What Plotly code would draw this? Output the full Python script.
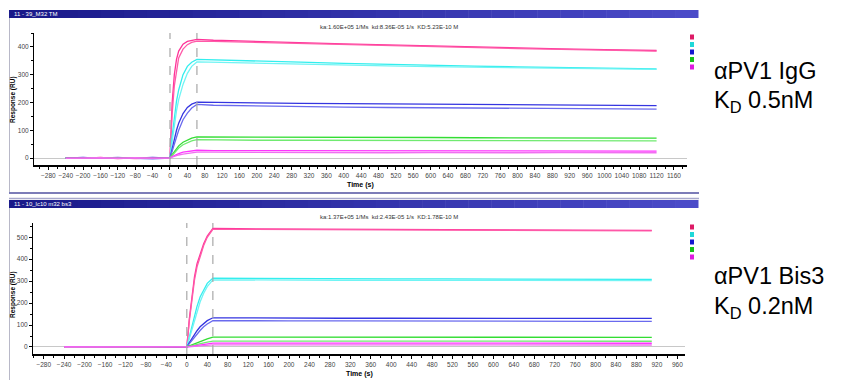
import plotly.graph_objects as go

# ---------------- data ----------------
TOP_TIME = [-240, -200, -160, -120, -80, -40, 0, 5, 10, 15, 20, 30, 40, 50, 62,
            100, 200, 300, 400, 500, 600, 700, 800, 900, 1000, 1120]
top_pink1 = [1, -1, 2, -2, 1, -1, 0, 200, 300, 355, 385, 410, 420, 424, 427, 424, 419, 415, 411, 407, 403, 399, 396, 393, 390, 387]
top_pink2 = [0, 1, -1, 1, -2, 1, 0, 160, 260, 320, 360, 392, 408, 416, 421, 420, 416, 412, 408, 404, 400, 397, 394, 391, 388, 385]
top_cyan1 = [0, 1, -1, 0, 1, -1, 0, 80, 150, 205, 245, 300, 330, 345, 355, 353, 349, 345, 341, 337, 334, 331, 328, 325, 323, 321]
top_cyan2 = [1, 0, 0, -1, 0, 1, 0, 60, 120, 170, 210, 265, 305, 330, 346, 345, 341, 338, 335, 332, 329, 327, 325, 323, 321, 319]
top_blue1 = [0, 2, -1, 1, 0, 2, 0, 35, 70, 100, 125, 160, 182, 194, 201, 200, 198, 197, 196, 195, 194, 193, 192, 191, 190, 189]
top_blue2 = [1, -1, 0, 2, -1, -3, 0, 25, 52, 78, 100, 138, 162, 180, 193, 190, 187, 185, 183, 182, 181, 180, 179, 178, 177, 176]
top_green1 = [0, 1, 0, -1, 1, 0, 0, 12, 24, 35, 44, 57, 66, 72, 76, 76, 75, 75, 74, 74, 74, 73, 73, 73, 72, 72]
top_green2 = [0, -1, 1, 0, 0, -1, 0, 9, 19, 28, 36, 48, 56, 62, 66, 65, 64, 64, 64, 63, 63, 63, 62, 62, 62, 62]
top_mag1 = [0, 0, -1, 1, 0, -1, 0, 5, 9, 13, 16, 21, 24, 26, 28, 27, 27, 26, 26, 26, 25, 25, 25, 25, 25, 25]
top_mag2 = [-1, 0, 1, -1, 1, 0, 0, 3, 6, 9, 11, 14, 17, 19, 21, 21, 20, 20, 20, 19, 20, 19, 19, 20, 19, 19]

BOT_TIME = [-240, -200, -160, -120, -80, -40, 0, 5, 10, 15, 20, 26, 33, 40, 51,
            100, 200, 300, 400, 500, 600, 700, 800, 910]
bot_pink1 = [2, -1, 1, 0, 1, -2, 0, 130, 240, 320, 380, 420, 470, 505, 540, 539, 538, 537, 536, 535, 534, 533, 532, 531]
bot_pink2 = [0, 1, -2, 1, 0, -1, 0, 120, 225, 305, 365, 410, 462, 500, 536, 536, 535, 534, 533, 532, 531, 530, 530, 529]
bot_cyan1 = [1, 0, -1, 1, 0, -1, 0, 50, 100, 145, 185, 228, 262, 290, 314, 313, 312, 311, 310, 310, 309, 309, 308, 308]
bot_cyan2 = [0, -1, 0, 1, -1, 0, 0, 40, 85, 125, 162, 205, 245, 275, 306, 305, 305, 304, 304, 303, 303, 302, 302, 302]
bot_blue1 = [0, 1, -1, 0, 1, 0, 0, 20, 40, 58, 74, 92, 108, 120, 133, 132, 132, 131, 131, 131, 130, 130, 130, 130]
bot_blue2 = [1, 0, 0, -1, 0, 1, 0, 15, 30, 45, 58, 75, 92, 105, 120, 119, 119, 119, 118, 118, 118, 118, 117, 117]
bot_green1 = [0, 0, 1, -1, 0, 1, 0, 5, 10, 15, 19, 25, 31, 37, 45, 45, 45, 45, 44, 44, 44, 44, 44, 44]
bot_green2 = [0, 1, 0, 0, -1, 0, 0, 3, 6, 9, 12, 15, 19, 22, 27, 27, 27, 27, 26, 26, 26, 26, 26, 26]
bot_mag1 = [1, -1, 0, 1, 0, -1, 0, 2, 4, 6, 8, 10, 12, 14, 18, 18, 18, 17, 17, 18, 17, 17, 17, 17]
bot_mag2 = [0, 0, -1, 0, 1, 0, 0, 1, 2, 3, 4, 5, 6, 8, 10, 10, 10, 9, 10, 9, 10, 9, 10, 9]

TOP_INJECT = [0, 62]
BOT_INJECT = [0, 51]

TOP_TITLE = "11 - 39_M32 TM"
BOT_TITLE = "11 - 10_lc10 m32 bs3"
TOP_KIN = "ka:1.60E+05 1/Ms  kd:8.36E-05 1/s  KD:5.23E-10 M"
BOT_KIN = "ka:1.37E+05 1/Ms  kd:2.43E-05 1/s  KD:1.78E-10 M"
TOP_LABEL = ["αPV1 IgG", "K<sub>D</sub> 0.5nM"]
BOT_LABEL = ["αPV1 Bis3", "K<sub>D</sub> 0.2nM"]

# ---------------- style ----------------
W, H = 842, 380
def px(x):
    return x / W
def py(y):
    return 1 - y / H

line_colors = ["#ff3399", "#ff5aa8", "#33eeee", "#70f4f4", "#3535e0", "#6a6aee",
               "#33dd33", "#70ea70", "#ff33ff", "#f070f0"]
legend_colors = ["#dd1a66", "#1ed8d8", "#1515d0", "#18c018", "#e01ae0"]

fig = go.Figure()

top_series = [top_pink1, top_pink2, top_cyan1, top_cyan2, top_blue1, top_blue2,
              top_green1, top_green2, top_mag1, top_mag2]
bot_series = [bot_pink1, bot_pink2, bot_cyan1, bot_cyan2, bot_blue1, bot_blue2,
              bot_green1, bot_green2, bot_mag1, bot_mag2]

for s, c in zip(top_series, line_colors):
    fig.add_trace(go.Scatter(x=TOP_TIME, y=s, mode="lines", line=dict(color=c, width=1.3),
                             xaxis="x", yaxis="y", showlegend=False, hoverinfo="skip"))
for s, c in zip(bot_series, line_colors):
    fig.add_trace(go.Scatter(x=BOT_TIME, y=s, mode="lines", line=dict(color=c, width=1.3),
                             xaxis="x2", yaxis="y2", showlegend=False, hoverinfo="skip"))

tickfont = dict(family="Liberation Sans Narrow, Liberation Sans", size=6.5, color="#444")

def xax(domain, rng, anchor):
    return dict(domain=domain, range=rng, anchor=anchor, showgrid=False, zeroline=False,
                showline=True, linecolor="black", linewidth=1.5, ticks="outside", ticklen=3,
                tickcolor="black", dtick=40, tick0=0, tickfont=tickfont, tickangle=0,
                minor=dict(dtick=20, ticks="outside", ticklen=2, tickcolor="black", showgrid=False))

def yax(domain, rng, anchor):
    return dict(domain=domain, range=rng, anchor=anchor, showgrid=False, zeroline=True,
                zerolinecolor="#c8c8c8", zerolinewidth=1,
                showline=True, linecolor="black", linewidth=1, ticks="outside", ticklen=3,
                tickcolor="black", dtick=100, tick0=0, tickfont=tickfont,
                minor=dict(dtick=50, ticks="outside", ticklen=2, tickcolor="black", showgrid=False))

shapes = []
annotations = []

# title bars (gradient via segments)
def title_bar(y0, y1):
    n = 30
    x0, x1 = 9, 698
    c0, c1 = (26, 26, 138), (74, 74, 200)
    for i in range(n):
        f = i / (n - 1)
        col = "rgb(%d,%d,%d)" % tuple(int(c0[k] + (c1[k] - c0[k]) * f) for k in range(3))
        shapes.append(dict(type="rect", xref="paper", yref="paper",
                           x0=px(x0 + (x1 - x0) * i / n), x1=px(x0 + (x1 - x0) * (i + 1) / n + 0.5),
                           y0=py(y1), y1=py(y0), line=dict(width=0), fillcolor=col, layer="above"))

title_bar(10, 18)
title_bar(200, 208)

def hline(x0, x1, y, color, width):
    shapes.append(dict(type="line", xref="paper", yref="paper", x0=px(x0), x1=px(x1),
                       y0=py(y), y1=py(y), line=dict(color=color, width=width)))

def vline(x, y0, y1, color, width):
    shapes.append(dict(type="line", xref="paper", yref="paper", x0=px(x), x1=px(x),
                       y0=py(y0), y1=py(y1), line=dict(color=color, width=width)))

vline(9.5, 18, 193, "#b8b8c8", 1)
hline(9, 699, 193, "#7c7cb8", 2)
hline(9, 699, 198.5, "#a8a8cc", 1.5)
vline(9.5, 208, 380, "#b8b8c8", 1)

# injection markers
for t in TOP_INJECT:
    shapes.append(dict(type="line", xref="x", yref="y domain", x0=t, x1=t, y0=0, y1=1,
                       line=dict(color="#a8a8a8", width=1.2, dash="dash")))
for t in BOT_INJECT:
    shapes.append(dict(type="line", xref="x2", yref="y2 domain", x0=t, x1=t, y0=0, y1=1,
                       line=dict(color="#a8a8a8", width=1.2, dash="dash")))

# legend squares
for i, c in enumerate(legend_colors):
    for yc in (37 + 7.5 * i, 227 + 7.5 * i):
        shapes.append(dict(type="rect", xref="paper", yref="paper",
                           x0=px(690), x1=px(694), y0=py(yc + 2.5), y1=py(yc - 2.5),
                           line=dict(width=0), fillcolor=c))

def ann(text, x, y, size, color="black", xanchor="left", bold=False, angle=0, family="Liberation Sans"):
    if bold:
        text = "<b>" + text + "</b>"
    annotations.append(dict(text=text, x=px(x), y=py(y), xref="paper", yref="paper",
                            xanchor=xanchor, yanchor="middle", showarrow=False,
                            textangle=angle, font=dict(family=family, size=size, color=color)))

ann(TOP_TITLE, 12, 14, 6, color="white")
ann(BOT_TITLE, 12, 204, 6, color="white")
ann(TOP_KIN, 318, 27, 6, color="#333")
ann(BOT_KIN, 318, 217, 6, color="#333")
ann("Response (RU)", 13, 100, 6.5, xanchor="center", bold=True, angle=-90)
ann("Response (RU)", 13, 295, 6.5, xanchor="center", bold=True, angle=-90)
ann("Time (s)", 360, 185, 7, xanchor="center", bold=True)
ann("Time (s)", 359, 374, 7, xanchor="center", bold=True)
ann(TOP_LABEL[0], 712, 71, 23.5)
ann(TOP_LABEL[1], 712, 102, 23.5)
ann(BOT_LABEL[0], 712, 276, 23.5)
ann(BOT_LABEL[1], 712, 307, 23.5)

fig.update_layout(
    width=W, height=H, margin=dict(l=0, r=0, t=0, b=0),
    paper_bgcolor="white", plot_bgcolor="white", showlegend=False,
    xaxis=xax([px(34), px(687)], [-313, 1190], "y"),
    yaxis=yax([py(165), py(33)], [-25, 450], "x"),
    xaxis2=xax([px(33), px(685)], [-301, 975], "y2"),
    yaxis2=yax([py(354), py(223)], [-32, 565], "x2"),
    shapes=shapes, annotations=annotations,
)

fig.write_html("out.html", config={"displayModeBar": False},
               post_script="document.body.style.margin='0px';document.body.style.overflow='hidden';")
